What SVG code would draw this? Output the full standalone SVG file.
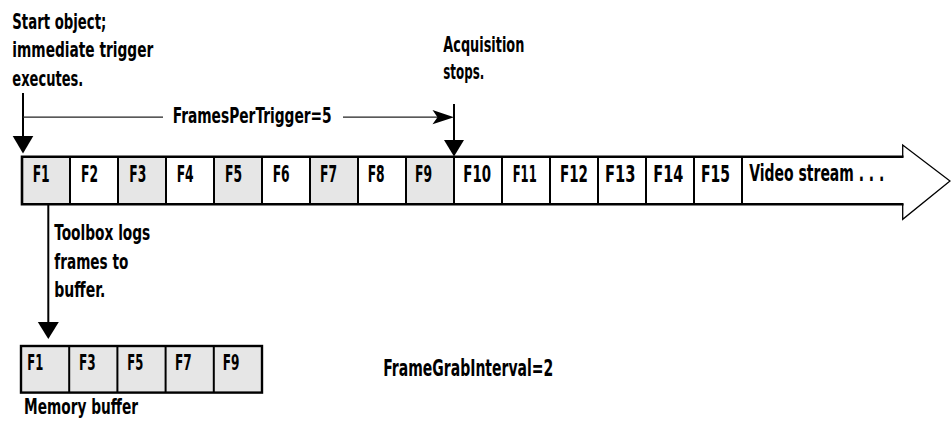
<svg xmlns="http://www.w3.org/2000/svg" width="951" height="422" viewBox="0 0 951 422">
<style>
.t{font-family:"DejaVu Sans Condensed","DejaVu Sans",sans-serif;font-stretch:condensed;font-weight:bold;font-size:21px;fill:#000}
.c{font-size:23.5px}
.b{font-size:22px}
.v{font-size:22.5px}
.sh{fill:#e6e6e6;stroke:none}
.div{stroke:#000;stroke-width:2;fill:none}
.ln{stroke:#000;stroke-width:2;fill:none}
.thin{stroke:#222;stroke-width:1.3;fill:none}
.head{fill:#000;stroke:none}
</style>
<rect width="951" height="422" fill="#fff"/>

<g id="stream">
  <path d="M22,156.7 L902.7,156.7 L902.7,145 L950,181 L902.7,219.3 L902.7,204.3 L22,204.3 Z" fill="#fff" stroke="#000" stroke-width="1.3"/>
  <rect class="sh" x="22" y="156.7" width="48" height="47.6"/>
  <rect class="sh" x="118" y="156.7" width="48" height="47.6"/>
  <rect class="sh" x="214" y="156.7" width="48" height="47.6"/>
  <rect class="sh" x="310" y="156.7" width="48" height="47.6"/>
  <rect class="sh" x="406" y="156.7" width="48" height="47.6"/>
  <path d="M903.5,156.7 H22 V204.3 H903.5" fill="none" stroke="#000" stroke-width="2.6"/>
  <path class="div" d="M70,156.7V204.3 M118,156.7V204.3 M166,156.7V204.3 M214,156.7V204.3 M262,156.7V204.3 M310,156.7V204.3 M358,156.7V204.3 M406,156.7V204.3 M454,156.7V204.3 M502,156.7V204.3 M550,156.7V204.3 M598,156.7V204.3 M646,156.7V204.3 M694,156.7V204.3 M742,156.7V204.3"/>
  <text class="t c" x="32.7" y="181.5" textLength="17" lengthAdjust="spacingAndGlyphs">F1</text>
  <text class="t c" x="81" y="181.5" textLength="17" lengthAdjust="spacingAndGlyphs">F2</text>
  <text class="t c" x="129.3" y="181.5" textLength="17" lengthAdjust="spacingAndGlyphs">F3</text>
  <text class="t c" x="176.7" y="181.5" textLength="17" lengthAdjust="spacingAndGlyphs">F4</text>
  <text class="t c" x="225" y="181.5" textLength="17" lengthAdjust="spacingAndGlyphs">F5</text>
  <text class="t c" x="272.7" y="181.5" textLength="17" lengthAdjust="spacingAndGlyphs">F6</text>
  <text class="t c" x="320" y="181.5" textLength="17" lengthAdjust="spacingAndGlyphs">F7</text>
  <text class="t c" x="367.7" y="181.5" textLength="17" lengthAdjust="spacingAndGlyphs">F8</text>
  <text class="t c" x="415" y="181.5" textLength="17" lengthAdjust="spacingAndGlyphs">F9</text>
  <text class="t c" x="463.3" y="181.5" textLength="27.7" lengthAdjust="spacingAndGlyphs">F10</text>
  <text class="t c" x="512.7" y="181.5" textLength="24" lengthAdjust="spacingAndGlyphs">F11</text>
  <text class="t c" x="560" y="181.5" textLength="28" lengthAdjust="spacingAndGlyphs">F12</text>
  <text class="t c" x="605" y="181.5" textLength="30.5" lengthAdjust="spacingAndGlyphs">F13</text>
  <text class="t c" x="653.3" y="181.5" textLength="30" lengthAdjust="spacingAndGlyphs">F14</text>
  <text class="t c" x="701" y="181.5" textLength="29" lengthAdjust="spacingAndGlyphs">F15</text>
  <text class="t v" x="749.3" y="181" textLength="135" lengthAdjust="spacingAndGlyphs">Video stream . . .</text>
</g>

<g id="buffer">
  <rect x="21" y="346" width="241" height="46.6" fill="#e6e6e6" stroke="#000" stroke-width="2.4"/>
  <path class="div" d="M69.2,346V392.6 M117.4,346V392.6 M165.6,346V392.6 M213.8,346V392.6"/>
  <text class="t b" x="27.3" y="370" textLength="16" lengthAdjust="spacingAndGlyphs">F1</text>
  <text class="t b" x="79" y="370" textLength="16.7" lengthAdjust="spacingAndGlyphs">F3</text>
  <text class="t b" x="127.3" y="370" textLength="16" lengthAdjust="spacingAndGlyphs">F5</text>
  <text class="t b" x="175" y="370" textLength="16.7" lengthAdjust="spacingAndGlyphs">F7</text>
  <text class="t b" x="222.7" y="370" textLength="16.7" lengthAdjust="spacingAndGlyphs">F9</text>
</g>

<g id="start-label">
  <text class="t" x="12.3" y="28.5" textLength="94" lengthAdjust="spacingAndGlyphs">Start object;</text>
  <text class="t" x="12.3" y="57" textLength="141" lengthAdjust="spacingAndGlyphs">immediate trigger</text>
  <text class="t" x="12.3" y="85.5" textLength="71" lengthAdjust="spacingAndGlyphs">executes.</text>
</g>

<g id="acq-label">
  <text class="t" x="443.3" y="51.5" textLength="81" lengthAdjust="spacingAndGlyphs">Acquisition</text>
  <text class="t" x="443.3" y="79" textLength="41" lengthAdjust="spacingAndGlyphs">stops.</text>
</g>

<g id="fpt-label">
  <text class="t" x="172.7" y="123.3" textLength="159" lengthAdjust="spacingAndGlyphs">FramesPerTrigger=5</text>
</g>

<g id="toolbox-label">
  <text class="t" x="54.3" y="240" textLength="96" lengthAdjust="spacingAndGlyphs">Toolbox logs</text>
  <text class="t" x="54.3" y="268.5" textLength="74" lengthAdjust="spacingAndGlyphs">frames to</text>
  <text class="t" x="54.3" y="297" textLength="51" lengthAdjust="spacingAndGlyphs">buffer.</text>
</g>

<g id="memory-label">
  <text class="t" x="24" y="414" textLength="114" lengthAdjust="spacingAndGlyphs">Memory buffer</text>
</g>

<g id="fgi-label">
  <text class="t c" x="383.3" y="375.7" textLength="170" lengthAdjust="spacingAndGlyphs">FrameGrabInterval=2</text>
</g>

<g id="connectors">
  <line class="ln" x1="23" y1="93" x2="23" y2="137"/>
  <path class="head" d="M12.7,136 L33.3,136 L23,153.5 Z"/>
  <line class="thin" x1="23" y1="117.2" x2="163" y2="117.2"/>
  <line class="thin" x1="343" y1="117.2" x2="438" y2="117.2"/>
  <path class="head" d="M454,117.2 L432.5,110 L437.5,117.2 L432.5,124.2 Z"/>
  <line class="ln" x1="454" y1="104" x2="454" y2="141"/>
  <path class="head" d="M444,140 L464,140 L454,156.5 Z"/>
  <line class="ln" x1="48.3" y1="204" x2="48.3" y2="323"/>
  <path class="head" d="M37.8,322 L58.8,322 L48.3,339 Z"/>
</g>
</svg>
